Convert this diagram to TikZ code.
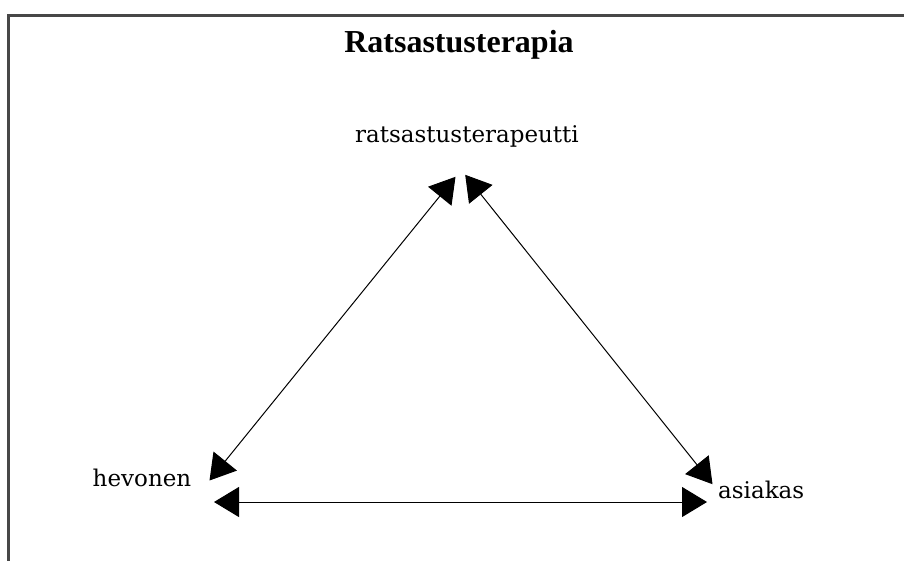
\documentclass[tikz,border=0pt]{standalone}
\usepackage{fontspec}
\setmainfont{DejaVu Serif}
\newfontfamily\titlefont{Liberation Serif}
\usetikzlibrary{arrows.meta}
\tikzset{
  frameline/.style={line width=3pt, draw=black!72},
  label/.style={inner sep=0pt, anchor=base, font=\fontsize{23}{27}\selectfont},
  titlelabel/.style={inner sep=0pt, anchor=base, font=\titlefont\bfseries\fontsize{32}{38}\selectfont},
  link/.style={line width=1pt, {Triangle[length=25pt,width=30pt]}-{Triangle[length=25pt,width=30pt]}}
}
\begin{document}
\begin{tikzpicture}[x=1pt,y=-1pt]
  \useasboundingbox (0,0) rectangle (904,560);
  \fill[white] (0,0) rectangle (904,560);
  % frame (only left and top edges visible)
  \draw[frameline] (8,562) -- (8,15) -- (906,15);
  % texts
  \node[titlelabel] (title) at (459,52) {Ratsastusterapia};
  \node[label] (terapeutti) at (467,142) {ratsastusterapeutti};
  \node[label] (hevonen) at (142,486) {hevonen};
  \node[label, anchor=base west] (asiakas) at (718,498) {asiakas};
  % arrow end points
  \coordinate (tl) at (455.5,176.8);
  \coordinate (bl) at (209.5,480.5);
  \coordinate (tr) at (465.2,174.8);
  \coordinate (br) at (712.5,484.2);
  \coordinate (hl) at (214,502);
  \coordinate (hr) at (707,502);
  % connectors
  \draw[link] (bl) -- (tl);
  \draw[link] (tr) -- (br);
  \draw[link] (hl) -- (hr);
\end{tikzpicture}
\end{document}
